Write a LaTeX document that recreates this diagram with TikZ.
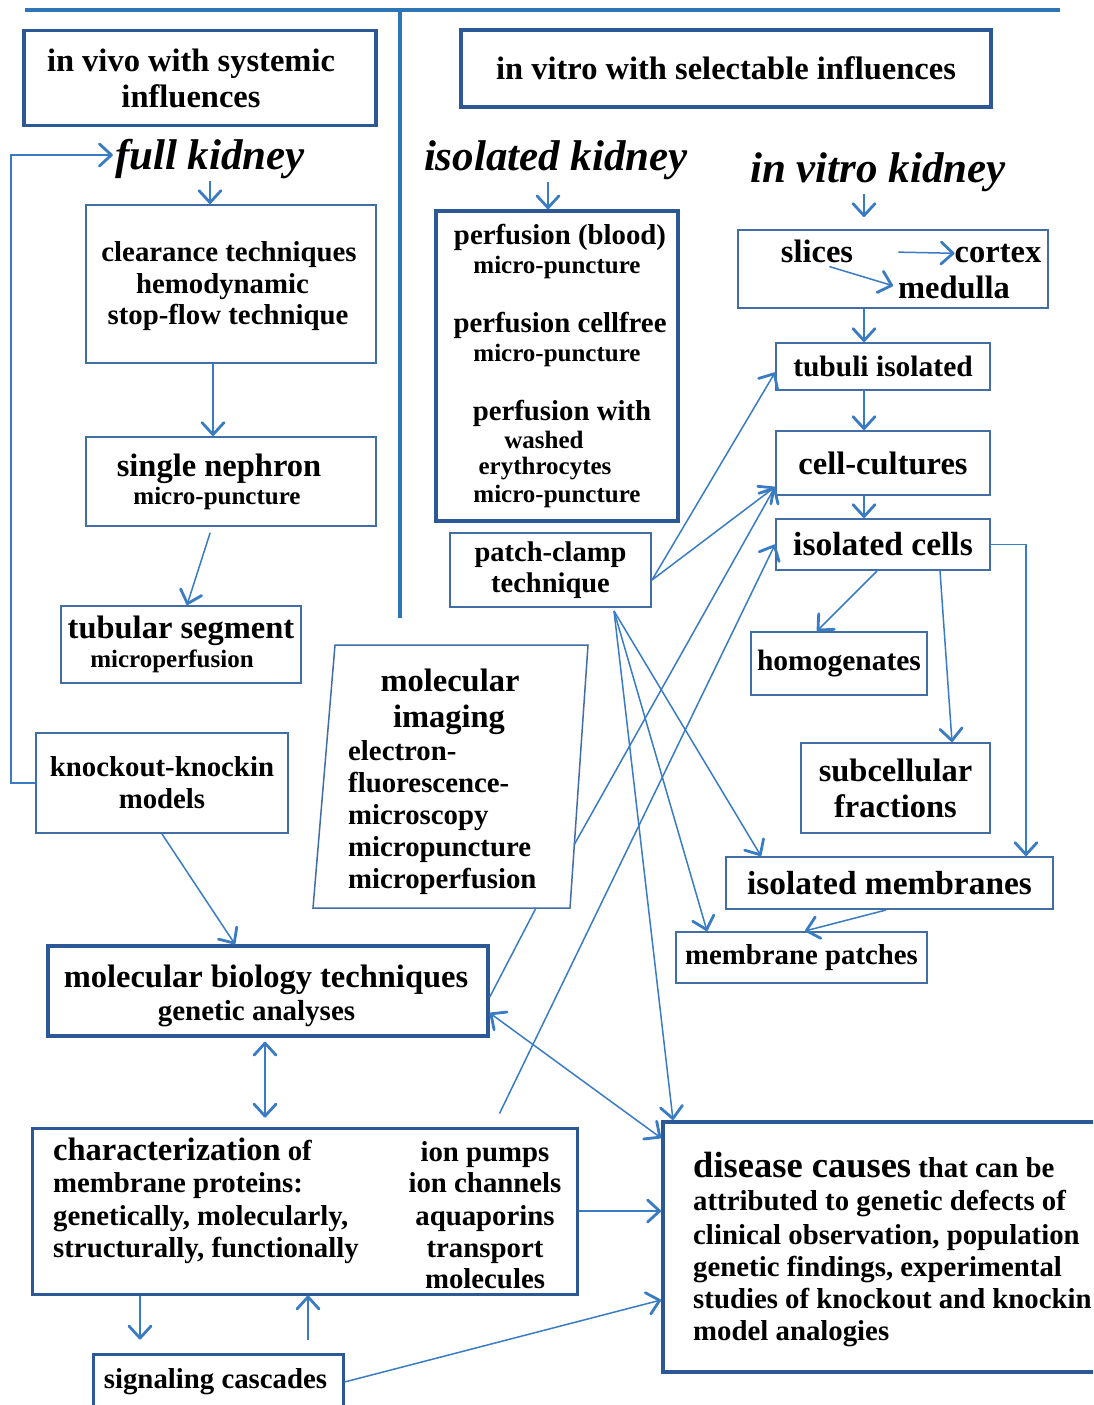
\documentclass[tikz,border=0pt]{standalone}
\usepackage{fontspec}
\setmainfont{Liberation Serif}
\usetikzlibrary{arrows.meta,calc}
\definecolor{thickcol}{RGB}{44,88,150}
\definecolor{thincol}{RGB}{66,110,165}
\definecolor{arrcol}{RGB}{58,124,196}
\definecolor{divcol}{RGB}{46,117,182}
\newcommand\fsA{\fontsize{25}{28}\selectfont}
\newcommand\fsB{\fontsize{28.8}{32}\selectfont}
\newcommand\fsC{\fontsize{32.5}{36}\selectfont}
\newcommand\fsD{\fontsize{36.5}{40}\selectfont}
\newcommand\fsE{\fontsize{43}{46}\selectfont}
\tikzset{
  mytip/.tip={Straight Barb[length=12pt,width=22pt,line width=2.8pt,round]},
  thinbox/.style={draw=thincol, line width=2pt, inner sep=0pt, align=center, font=\bfseries\fsB, text=black},
  thkbox/.style={draw=thickcol, line width=3.5pt, inner sep=0pt, align=center, font=\bfseries\fsB, text=black},
  tA/.style={inner sep=0pt, font=\bfseries\fsA, text=black},
  tB/.style={inner sep=0pt, font=\bfseries\fsB, text=black},
  tC/.style={inner sep=0pt, font=\bfseries\fsC, text=black},
  tE/.style={inner sep=2pt, font=\bfseries\itshape\fsE, text=black},
  conn/.style={draw=arrcol, line width=1.5pt},
  arr/.style={conn, -{mytip}},
  darr/.style={conn, {mytip}-{mytip}}
}
\begin{document}
\begin{tikzpicture}[x=1pt,y=-1pt]
\useasboundingbox (0,0) rectangle (1093,1405);
\fill[white] (0,0) rectangle (1093,1405);
\clip (0,0) rectangle (1093,1405);

% dividers
\draw[divcol, line width=4pt] (25,10) -- (1060,10);
\draw[divcol, line width=4pt] (400,8) -- (400,618);

% header boxes
\node[thkbox, minimum width=352pt, minimum height=95pt, font=\bfseries\fsC] (inv) at (200,78) {in vivo with systemic\hspace*{18pt}\\ influences\hspace*{18pt}};
\node[thkbox, minimum width=530pt, minimum height=77pt, font=\bfseries\fsC] (invitro) at (726,68.5) {in vitro with selectable influences};

% headings
\node[tE, anchor=mid] (fullk) at (210,167) {full kidney};
\node[tE, anchor=mid] (isok) at (556,168) {isolated kidney};
\node[tE, anchor=mid] (ivk) at (878,180) {in vitro kidney};

% left column
\node[thinbox, minimum width=290pt, minimum height=158pt] (clear) at (231,284) {};
\node[tB, anchor=mid] (cl1) at (229,259) {clearance techniques};
\node[tB, anchor=mid] (cl2) at (222.5,291) {hemodynamic};
\node[tB, anchor=mid] (cl3) at (228,322) {stop-flow technique};
\node[thinbox, minimum width=290pt, minimum height=89pt, font=\bfseries\fsC] (single) at (231,481.5) {single nephron\hspace*{24pt}\\[-8pt] {\fsA micro-puncture}\hspace*{28pt}};
\node[thinbox, minimum width=240pt, minimum height=77pt, font=\bfseries\fsC] (tubseg) at (181,644.5) {tubular segment\\[-7pt] {\fsA microperfusion}\hspace*{18pt}};
\node[thinbox, minimum width=252pt, minimum height=100pt] (knock) at (162,783) {knockout-knockin\\ models};

% isolated kidney column
\node[thkbox, minimum width=242pt, minimum height=310pt] (perf) at (557,366) {};
\node[tB, anchor=mid] (pf1) at (560,242) {perfusion (blood)};
\node[tA, anchor=mid] (pf2) at (557,271) {micro-puncture};
\node[tB, anchor=mid] (pf3) at (560,330) {perfusion cellfree};
\node[tA, anchor=mid] (pf4) at (557,359) {micro-puncture};
\node[tB, anchor=mid] (pf5) at (562,418) {perfusion with};
\node[tA, anchor=mid] (pf6) at (544,446) {washed};
\node[tA, anchor=mid] (pf7) at (545,472) {erythrocytes};
\node[tA, anchor=mid] (pf8) at (557,500) {micro-puncture};
\node[thinbox, minimum width=201pt, minimum height=74pt, font=\bfseries\fontsize{28.5}{31}\selectfont] (patch) at (550.5,570) {patch-clamp\\ technique};

% in vitro kidney column
\node[thinbox, minimum width=310pt, minimum height=78pt] (slices) at (893,269) {};
\node[tC, anchor=mid] (sl) at (817,260) {slices};
\node[tC, anchor=mid] (cx) at (998,260) {cortex};
\node[tC, anchor=mid] (med) at (954,296) {medulla};
\node[thinbox, minimum width=214pt, minimum height=47pt, font=\bfseries\fontsize{29.5}{32}\selectfont] (tubuli) at (883,366.5) {tubuli isolated};
\node[thinbox, minimum width=214pt, minimum height=64pt, font=\bfseries\fsC] (cellc) at (883,463) {cell-cultures};
\node[thinbox, minimum width=214pt, minimum height=51pt, font=\bfseries\fontsize{33.5}{36}\selectfont] (isoc) at (883,544.5) {isolated cells};
\node[thinbox, minimum width=176pt, minimum height=63pt, font=\bfseries\fontsize{29.5}{32}\selectfont] (homog) at (839,663.5) {homogenates};
\node[thinbox, minimum width=189pt, minimum height=90pt, font=\bfseries\fsC] (subc) at (895.5,788) {subcellular\\ fractions};
\node[thinbox, minimum width=327pt, minimum height=52pt, font=\bfseries\fontsize{33.4}{36}\selectfont] (isom) at (889.5,883) {isolated membranes};
\node[thinbox, minimum width=251pt, minimum height=51pt] (mpatch) at (801.5,957.5) {membrane patches};

% molecular imaging
\draw[thincol, line width=1.5pt] (335,645) -- (588,645) -- (570,908) -- (313,908) -- cycle;
\coordinate (imgR) at (574,845);
\coordinate (imgB) at (536,908);
\node[tC, anchor=mid] (im1) at (450,689) {molecular};
\node[tC, anchor=mid] (im2) at (449,725) {imaging};
\node[tB, anchor=mid west] (im3) at (348,758) {electron-};
\node[tB, anchor=mid west] (im4) at (348,790) {fluorescence-};
\node[tB, anchor=mid west] (im5) at (348,822) {microscopy};
\node[tB, anchor=mid west] (im6) at (348,854) {micropuncture};
\node[tB, anchor=mid west] (im7) at (348,886) {microperfusion};

% lower boxes
\node[thkbox, minimum width=440pt, minimum height=90pt] (molbio) at (268,991) {};
\node[tC, anchor=mid] (mb1) at (266,985) {molecular biology techniques};
\node[inner sep=0pt, font=\bfseries\fontsize{29}{32}\selectfont, anchor=mid] (mb2) at (256.5,1018) {genetic analyses};
\node[thkbox, line width=3pt, minimum width=545pt, minimum height=166pt] (charac) at (304.5,1211) {};
\node[tB, anchor=mid west] (ch1) at (53,1158) {{\fsC characterization} of};
\node[tB, anchor=mid west] (ch2) at (53,1190) {membrane proteins:};
\node[tB, anchor=mid west] (ch3) at (53,1223) {genetically, molecularly,};
\node[tB, anchor=mid west] (ch4) at (53,1255) {structurally, functionally};
\node[tB, anchor=mid] (cr1) at (485,1159) {ion pumps};
\node[tB, anchor=mid] (cr2) at (485,1190) {ion channels};
\node[tB, anchor=mid] (cr3) at (485,1223) {aquaporins};
\node[tB, anchor=mid] (cr4) at (485,1255) {transport};
\node[tB, anchor=mid] (cr5) at (485,1286) {molecules};
\node[thkbox, line width=3pt, minimum width=250pt, minimum height=56pt] (signal) at (218,1382) {};
\node[tB, anchor=mid] (sg1) at (215.5,1386) {signaling cascades};
\node[thkbox, line width=4pt, minimum width=437pt, minimum height=250pt] (disease) at (881.5,1247) {};
\node[tB, anchor=mid west] (d1) at (693,1175) {{\fsD disease causes} that can be};
\node[tB, anchor=mid west] (d2) at (693,1208) {attributed to genetic defects of};
\node[tB, anchor=mid west] (d3) at (693,1242) {clinical observation, population};
\node[tB, anchor=mid west] (d4) at (693,1274) {genetic findings, experimental};
\node[tB, anchor=mid west] (d5) at (693,1306) {studies of knockout and knockin};
\node[tB, anchor=mid west] (d6) at (693,1338) {model analogies};

% connectors left
\draw[arr] (knock.west) -- ++(-24,0) |- ($(fullk.mid west)+(0,-12)$);
\draw[arr] (fullk.south) -- (fullk.south |- clear.north);
\draw[arr] ($(clear.south)+(-18,0)$) -- ($(single.north)+(-18,0)$);
\draw[arr, shorten <=6pt] ($(single.south)+(-19,0)$) -- ($(tubseg.north)+(6,0)$);
\draw[arr] (knock.south) -- ($(molbio.north)+(-33,0)$);
\draw[darr, shorten <=4pt, shorten >=9pt] ($(molbio.south)+(-3,0)$) -- ($(charac.north)+(-39.5,0)$);
\draw[arr, shorten >=13pt] ($(charac.south)+(-164.5,0)$) -- ($(signal.north)+(-78,0)$);
\draw[arr, shorten <=13pt] ($(signal.north)+(90,0)$) -- ($(charac.south)+(3.5,0)$);
\draw[arr] (signal.east) -- ($(disease.west)+(0,53)$);
\draw[arr] (charac.east) -- (charac.east -| disease.west);
\draw[darr] ($(molbio.east)+(0,22)$) -- ($(disease.north west)+(0,18)$);
\draw[conn] (imgB) -- ($(molbio.east)+(0,6)$);
\draw[arr] (imgR) -- ($(cellc.west)+(0,24)$);
\draw[arr] ($(charac.north)+(195,-13)$) -- (isoc.west);

% patch clamp
\draw[arr] ($(patch.east)+(0,10)$) -- ($(tubuli.west)+(0,6)$);
\draw[arr] ($(patch.east)+(0,10)$) -- ($(cellc.west)+(0,24)$);
\coordinate (pcs) at ($(patch.south)+(63.5,3)$);
\draw[arr] (pcs) -- ($(isom.north west)+(36,0)$);
\draw[arr] (pcs) -- ($(mpatch.north west)+(32,0)$);
\draw[arr] (pcs) -- ($(disease.north west)+(12,0)$);

% right columns
\draw[arr] ($(isok.south)+(-8,0)$) -- ($(perf.north)+(-9,0)$);
\draw[arr] ($(ivk.south)+(-14,0)$) -- ($(slices.north)+(-29,-12)$);
\draw[arr, shorten <=45pt] (sl.east) -- (cx.west);
\draw[arr, shorten <=13pt, shorten >=5pt] (sl.south) -- (med.west);
\draw[arr] ($(slices.south)+(-29,0)$) -- ($(tubuli.north)+(-19,0)$);
\draw[arr] ($(tubuli.south)+(-19,0)$) -- ($(cellc.north)+(-19,0)$);
\draw[arr] ($(cellc.south)+(-19,0)$) -- ($(isoc.north)+(-19,0)$);
\draw[arr] ($(isoc.south)+(-6,0)$) -- ($(homog.north)+(-22,0)$);
\draw[arr] ($(isoc.south)+(57,0)$) -- ($(subc.north)+(56.5,0)$);
\draw[arr] (isoc.east) -| ($(isom.north east)+(-28,0)$);
\draw[arr] ($(isom.south)+(-3.5,0)$) -- ($(mpatch.north)+(3.5,0)$);
\end{tikzpicture}
\end{document}
